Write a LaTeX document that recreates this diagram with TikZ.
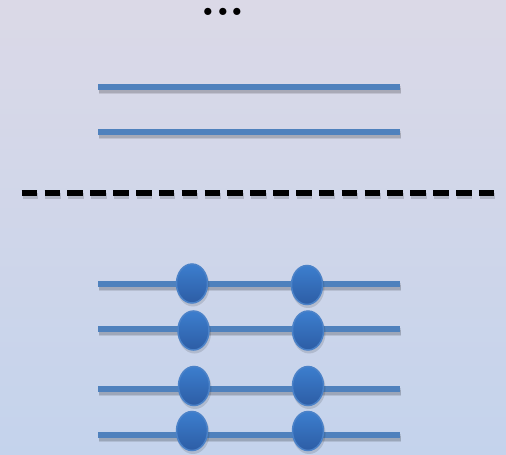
\documentclass[tikz,border=0pt]{standalone}
\usetikzlibrary{shapes.geometric}
\definecolor{bgtop}{RGB}{219,217,231}
\definecolor{bgbot}{RGB}{196,211,236}
\definecolor{lineblue}{RGB}{79,129,189}
\definecolor{beadtop}{RGB}{60,126,206}
\definecolor{beadbot}{RGB}{45,93,165}
\definecolor{beadedge}{RGB}{75,130,200}
\begin{document}
\begin{tikzpicture}[x=1pt,y=-1pt,
  wire/.style={line width=6pt, color=lineblue},
  wshadow/.style={line width=8pt, black, opacity=0.10},
  wshadowin/.style={line width=5pt, black, opacity=0.12},
  dashline/.style={line width=6pt, black, dash pattern=on 15.5pt off 7.36pt},
  bead/.style={ellipse, minimum width=31pt, minimum height=39pt, inner sep=0pt,
    draw=beadedge, line width=1.5pt, top color=beadtop, bottom color=beadbot},
  beadshadow/.style={ellipse, minimum width=33pt, minimum height=41pt, inner sep=0pt,
    fill=black, opacity=0.12},
  dots/.style={font=\fontsize{50}{50}\selectfont\bfseries, inner sep=0pt}
]
\shade[top color=bgtop, bottom color=bgbot] (0,0) rectangle (506,455);
\useasboundingbox (0,0) rectangle (506,455);

\node[dots] (dots) at (223,12.3) {.\hspace{-0.9pt}.\hspace{-0.9pt}.};

% plain wires
\foreach \n/\y in {a/87, b/132} {
  \coordinate (\n L) at (98,\y);
  \coordinate (\n R) at (400,\y);
  \coordinate (\n Ls) at (99,\y+3);
  \coordinate (\n Rs) at (401,\y+3);
  \draw[wshadow] (\n Ls) -- (\n Rs);
  \draw[wshadowin] (\n Ls) -- (\n Rs);
  \draw[wire] (\n L) -- (\n R);
}

% dashed separator
\coordinate (dL) at (21.7,192.5);
\coordinate (dR) at (494.3,192.5);
\coordinate (dLs) at (22.5,195.5);
\coordinate (dRs) at (495,195.5);
\draw[dashline, opacity=0.15] (dLs) -- (dRs);
\draw[dashline] (dL) -- (dR);

% bead wires
\foreach \n/\y in {c/284, d/329, e/389, f/435} {
  \coordinate (\n L) at (98,\y);
  \coordinate (\n R) at (400,\y);
  \coordinate (\n Ls) at (99,\y+3);
  \coordinate (\n Rs) at (401,\y+3);
  \draw[wshadow] (\n Ls) -- (\n Rs);
  \draw[wshadowin] (\n Ls) -- (\n Rs);
  \draw[wire] (\n L) -- (\n R);
}

% beads
\foreach \n/\x/\y in {c1/192/283.5, c2/307/285, d1/193.5/330.5, d2/308/330.5,
                      e1/194/386, e2/308/386, f1/192/431, f2/308/431} {
  \node[beadshadow] (\n s) at (\x+1,\y+2.5) {};
  \node[bead] (\n) at (\x,\y) {};
}
\end{tikzpicture}
\end{document}
